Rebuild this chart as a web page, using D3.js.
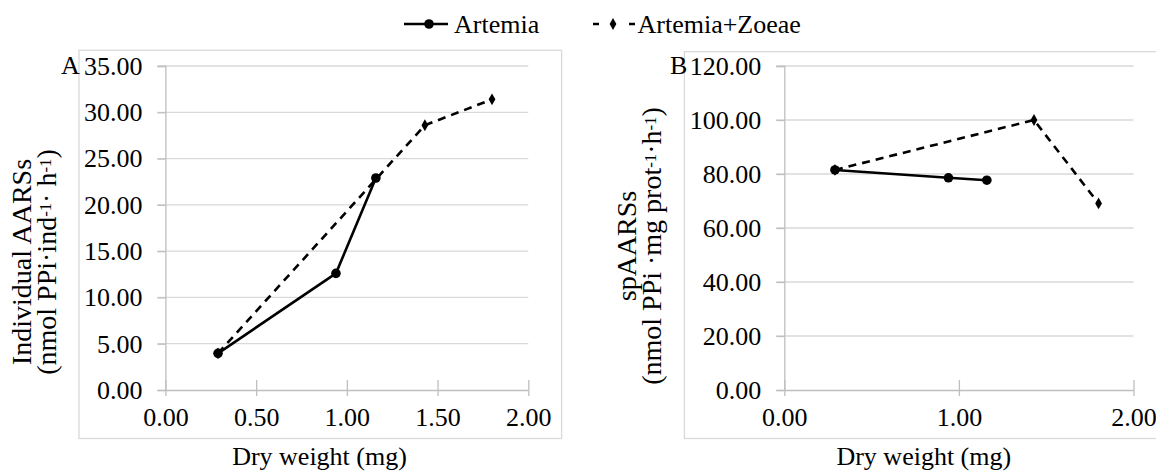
<!DOCTYPE html>
<html>
<head>
<meta charset="utf-8">
<script src="https://cdn.jsdelivr.net/npm/d3@7"></script>
<style>
  body { margin: 0; background: #fff; }
  svg { display: block; font-family: "Liberation Serif", "Times New Roman", serif; }
</style>
</head>
<body>
<svg></svg>
<script>
// data
const seriesNames = ["Artemia", "Artemia+Zoeae"]
const artemiaWeight = [0.29, 0.94, 1.16]
const zoeaeWeight = [0.29, 1.43, 1.80]
const artemiaIndividual = [3.96, 12.6, 22.9]     // panel A
const zoeaeIndividual = [3.96, 28.6, 31.4]
const artemiaSpecific = [81.5, 78.6, 77.7]       // panel B
const zoeaeSpecific = [81.5, 100.0, 69.1]
const xTicksA = [0, 0.5, 1, 1.5, 2]
const xTicksB = [0, 1, 2]
const yTicksA = [0, 5, 10, 15, 20, 25, 30, 35]
const yTicksB = [0, 20, 40, 60, 80, 100, 120]

const svgWidth = 1156
const svgHeight = 475
const fontSize = 26
const titleSize = 28
const serif = "Liberation Serif, Times New Roman, serif"
const gridColor = "#d9d9d9"
const axisColor = "#bfbfbf"

const svg = d3.select("svg")
    .attr("width", svgWidth)
    .attr("height", svgHeight)

function drawPanel(cfg) {
    const xScale = d3.scaleLinear().domain([0, 2]).range([cfg.left, cfg.right])
    const yScale = d3.scaleLinear().domain([0, d3.max(cfg.yTicks)]).range([cfg.bottom, cfg.top])
    const g = svg.append("g")

    // chart area border
    g.append("rect")
        .attr("x", cfg.box[0]).attr("y", cfg.box[1])
        .attr("width", cfg.box[2] - cfg.box[0]).attr("height", cfg.box[3] - cfg.box[1])
        .attr("fill", "none").attr("stroke", gridColor).attr("stroke-width", 1.3)

    // gridlines
    g.selectAll(".grid")
        .data(cfg.yTicks.filter(d => d > 0))
        .join("line")
        .attr("x1", cfg.left - 8).attr("x2", cfg.right)
        .attr("y1", d => yScale(d)).attr("y2", d => yScale(d))
        .attr("stroke", gridColor).attr("stroke-width", 1.3)

    // y axis
    const yAxis = g.append("g")
        .attr("transform", `translate(${cfg.left},0)`)
        .call(d3.axisLeft(yScale).tickValues(cfg.yTicks).tickSize(8).tickPadding(15)
            .tickFormat(d3.format(".2f")))
        .attr("font-family", serif).attr("font-size", fontSize)
    yAxis.select(".domain").attr("stroke", axisColor).attr("stroke-width", 1.3)
    yAxis.selectAll(".tick line").attr("stroke", axisColor).attr("stroke-width", 1.3)
    yAxis.selectAll(".tick text").attr("fill", "#000")

    // x axis with crossing ticks
    const xAxis = g.append("g")
        .attr("transform", `translate(0,${cfg.bottom})`)
        .call(d3.axisBottom(xScale).tickValues(cfg.xTicks).tickSize(0).tickPadding(18)
            .tickFormat(d3.format(".2f")))
        .attr("font-family", serif).attr("font-size", fontSize)
    xAxis.select(".domain").attr("stroke", axisColor).attr("stroke-width", 1.3)
    xAxis.selectAll(".tick text").attr("fill", "#000")
    xAxis.selectAll(".tick").append("line")
        .attr("y1", -10).attr("y2", 6)
        .attr("stroke", axisColor).attr("stroke-width", 1.3)

    // panel letter
    g.append("text").text(cfg.letter)
        .attr("x", cfg.letterX).attr("y", yScale(d3.max(cfg.yTicks)) + 8)
        .attr("font-size", fontSize)

    // x title
    g.append("text").text("Dry weight (mg)")
        .attr("x", cfg.xTitleX).attr("y", 465)
        .attr("text-anchor", "middle").attr("font-size", fontSize)

    // y title, two lines
    g.append("text")
        .attr("transform", `translate(${cfg.yTitleX[0]},${cfg.yTitleY}) rotate(-90)`)
        .attr("text-anchor", "middle").attr("font-size", titleSize)
        .text(cfg.yTitle1)
    const t2 = g.append("text")
        .attr("transform", `translate(${cfg.yTitleX[1]},${cfg.yTitleY}) rotate(-90)`)
        .attr("text-anchor", "middle").attr("font-size", titleSize)
    cfg.yTitle2.forEach(part => {
        const ts = t2.append("tspan").text(part[0])
        if (part[1]) ts.attr("baseline-shift", "28%").attr("font-size", titleSize * 0.6)
    })

    // lines
    const line = d3.line().x(d => xScale(d[0])).y(d => yScale(d[1]))
    const artemiaPts = artemiaWeight.map((w, i) => [w, cfg.artemia[i]])
    const zoeaePts = zoeaeWeight.map((w, i) => [w, cfg.zoeae[i]])

    g.append("path").datum(zoeaePts).attr("d", line)
        .attr("fill", "none").attr("stroke", "#000").attr("stroke-width", 2.6)
        .attr("stroke-dasharray", "8,6")
    g.append("path").datum(artemiaPts).attr("d", line)
        .attr("fill", "none").attr("stroke", "#000").attr("stroke-width", 2.6)

    g.selectAll(".zm").data(zoeaePts).join("path")
        .attr("d", d3.symbol(d3.symbolDiamond, 40))
        .attr("transform", d => `translate(${xScale(d[0])},${yScale(d[1])})`)
        .attr("fill", "#000")
    g.selectAll(".am").data(artemiaPts).join("circle")
        .attr("cx", d => xScale(d[0])).attr("cy", d => yScale(d[1]))
        .attr("r", 4.8).attr("fill", "#000")
}

drawPanel({
    left: 165.4, right: 528.3, top: 66, bottom: 390,
    box: [79, 50.3, 561.6, 438.5],
    xTicks: xTicksA, yTicks: yTicksA,
    letter: "A", letterX: 61,
    xTitleX: 319.5,
    yTitleX: [31, 56], yTitleY: 262,
    yTitle1: "Individual AARSs",
    yTitle2: [["(nmol PPi·ind"], ["-1", true], ["· h"], ["-1", true], [")"]],
    artemia: artemiaIndividual, zoeae: zoeaeIndividual
})

drawPanel({
    left: 784.3, right: 1133.5, top: 66, bottom: 390,
    box: [684.4, 51.7, 1170, 438.5],
    xTicks: xTicksB, yTicks: yTicksB,
    letter: "B", letterX: 670,
    xTitleX: 923.8,
    yTitleX: [636, 661], yTitleY: 246,
    yTitle1: "spAARSs",
    yTitle2: [["(nmol PPi ·mg prot"], ["-1", true], ["·h"], ["-1", true], [")"]],
    artemia: artemiaSpecific, zoeae: zoeaeSpecific
})

// legend
const legend = svg.append("g")
legend.append("line")
    .attr("x1", 404).attr("x2", 448).attr("y1", 24).attr("y2", 24)
    .attr("stroke", "#000").attr("stroke-width", 2.6)
legend.append("circle").attr("cx", 429).attr("cy", 24).attr("r", 4.8).attr("fill", "#000")
legend.append("text").text(seriesNames[0])
    .attr("x", 454).attr("y", 33).attr("font-size", fontSize)

legend.append("line")
    .attr("x1", 593).attr("x2", 635).attr("y1", 24).attr("y2", 24)
    .attr("stroke", "#000").attr("stroke-width", 2.6).attr("stroke-dasharray", "6,30")
legend.append("path")
    .attr("d", d3.symbol(d3.symbolDiamond, 40))
    .attr("transform", "translate(613,24)").attr("fill", "#000")
legend.append("text").text(seriesNames[1])
    .attr("x", 637.5).attr("y", 33).attr("font-size", fontSize)
</script>
</body>
</html>
